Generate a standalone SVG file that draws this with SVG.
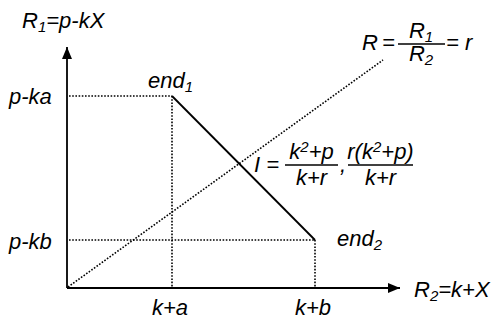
<svg xmlns="http://www.w3.org/2000/svg" width="491" height="320" viewBox="0 0 491 320">
<defs>
<style>
text{font-family:"Liberation Sans",Arial,Helvetica,sans-serif;font-style:italic;font-size:22px;fill:#000}
.sub{font-size:15px}
.dot{stroke:#000;stroke-width:1.6;stroke-dasharray:1.6 1.6;fill:none}
.solid{stroke:#000;stroke-width:1.8;fill:none}
.frac{stroke:#000;stroke-width:1.3}
</style>
<marker id="arr" viewBox="0 0 12 10" refX="12" refY="5" markerWidth="12" markerHeight="10" markerUnits="userSpaceOnUse" orient="auto">
<path d="M0,0 L12,5 L0,10 z" fill="#000"/>
</marker>
</defs>
<rect width="491" height="320" fill="#fff"/>
<g id="connectors">
<line class="solid" x1="67" y1="288" x2="67" y2="47" marker-end="url(#arr)"/>
<line class="solid" x1="67" y1="288" x2="400" y2="288" marker-end="url(#arr)"/>
<line class="dot" x1="69" y1="96" x2="172" y2="96"/>
<line class="dot" x1="69" y1="240" x2="315" y2="240"/>
<line class="dot" x1="172" y1="96" x2="172" y2="287"/>
<line class="dot" x1="315" y1="240" x2="315" y2="287"/>
<line class="dot" x1="68" y1="287" x2="383" y2="60"/>
<line class="solid" x1="172" y1="96" x2="315" y2="240"/>
</g>
<g id="axis-y-label"><text x="22" y="28">R<tspan class="sub" dy="4">1</tspan><tspan dy="-4">=p-kX</tspan></text></g>
<g id="axis-x-label"><text x="414" y="297">R<tspan class="sub" dy="4">2</tspan><tspan dy="-4">=k+X</tspan></text></g>
<g id="tick-pka"><text x="9" y="104">p-ka</text></g>
<g id="tick-pkb"><text x="9" y="249">p-kb</text></g>
<g id="tick-ka"><text x="152" y="315">k+a</text></g>
<g id="tick-kb"><text x="295" y="315">k+b</text></g>
<g id="end1"><text x="148" y="88">end<tspan class="sub" dy="4">1</tspan></text></g>
<g id="end2"><text x="337" y="246">end<tspan class="sub" dy="4">2</tspan></text></g>
<g id="ratio">
<text x="362" y="50">R</text>
<text x="382" y="50">=</text>
<line class="frac" x1="398" y1="44" x2="445" y2="44"/>
<text x="421" y="38" text-anchor="middle">R<tspan class="sub" dy="4">1</tspan></text>
<text x="421" y="61" text-anchor="middle">R<tspan class="sub" dy="4">2</tspan></text>
<text x="446" y="50">= r</text>
</g>
<g id="intersection">
<text x="254" y="172">I =</text>
<line class="frac" x1="285" y1="165" x2="338" y2="165"/>
<text x="311.5" y="159" text-anchor="middle">k<tspan class="sub" dy="-7">2</tspan><tspan dy="7">+p</tspan></text>
<text x="311.5" y="185" text-anchor="middle">k+r</text>
<text x="340" y="172">,</text>
<line class="frac" x1="348" y1="165" x2="413" y2="165"/>
<text x="380.5" y="159" text-anchor="middle">r(k<tspan class="sub" dy="-7">2</tspan><tspan dy="7">+p)</tspan></text>
<text x="380.5" y="185" text-anchor="middle">k+r</text>
</g>
</svg>
